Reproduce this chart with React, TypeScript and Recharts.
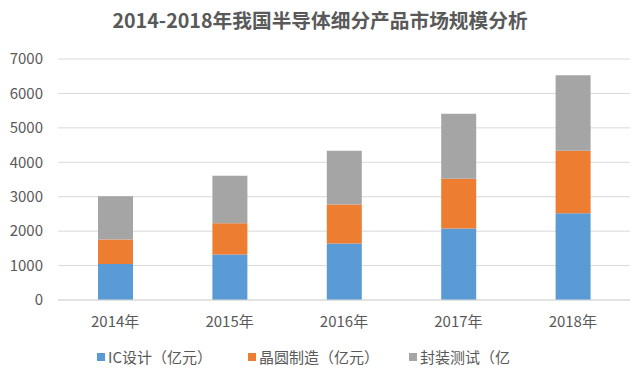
import { BarChart, Bar, XAxis, YAxis, CartesianGrid, Legend } from "recharts";

const years = ["2014年", "2015年", "2016年", "2017年", "2018年"];
const icDesign = [1047.4, 1325.0, 1644.3, 2073.5, 2519.3];
const waferMfg = [712.1, 900.8, 1126.9, 1448.1, 1818.2];
const packTest = [1255.9, 1384.0, 1564.3, 1889.7, 2193.9];
const yTicks = [0, 1000, 2000, 3000, 4000, 5000, 6000, 7000];

const seriesNames = ["IC设计（亿元）", "晶圆制造（亿元）", "封装测试（亿元）"];
const legendLabels = ["IC设计（亿元）", "晶圆制造（亿元）", "封装测试（亿"];
const colors = ["#5B9BD5", "#ED7D31", "#A5A5A5"];

const data = years.map((year, i) => ({
  year,
  ic: icDesign[i],
  wafer: waferMfg[i],
  pack: packTest[i],
}));

const FONT = '"Noto Sans CJK SC", "Noto Sans", sans-serif';

// legend is cut off on the right in the original, so draw it by hand
const renderLegend = () => (
  <div
    style={{
      display: "flex",
      justifyContent: "flex-start",
      paddingLeft: 97,
      paddingTop: 16,
      fontFamily: FONT,
      fontSize: 15,
      color: "#595959",
    }}
  >
    {legendLabels.map((label, i) => (
      <div key={label} style={{ display: "flex", alignItems: "center", marginRight: i === 0 ? 36 : 30 }}>
        <span style={{ width: 8, height: 8, background: colors[i], display: "inline-block", marginRight: 3 }} />
        <span>{label}</span>
      </div>
    ))}
  </div>
);

const App = () => {
  return (
    <div style={{ position: "relative", width: 640, height: 380, background: "#fff" }}>
      <style>{"body{margin:0}"}</style>
      <div
        style={{
          position: "absolute",
          top: 5,
          left: 0,
          width: 640,
          textAlign: "center",
          fontFamily: FONT,
          fontWeight: "bold",
          fontSize: 19.7,
          color: "#595959",
        }}
      >
        2014-2018年我国半导体细分产品市场规模分析
      </div>
      <BarChart width={640} height={380} data={data} margin={{ top: 59, right: 10, left: 0, bottom: 20 }}>
        <CartesianGrid vertical={false} stroke="#D9D9D9" />
        <XAxis
          dataKey="year"
          axisLine={{ stroke: "#D9D9D9" }}
          tickLine={false}
          height={30}
          tick={{ fill: "#595959", fontSize: 15, fontFamily: FONT }}
          tickMargin={10}
        />
        <YAxis
          ticks={yTicks}
          domain={[0, 7000]}
          axisLine={false}
          tickLine={false}
          tickSize={0}
          tickMargin={15}
          width={58}
          tick={{ fill: "#595959", fontSize: 15, fontFamily: FONT }}
        />
        <Legend verticalAlign="bottom" height={30} content={renderLegend} />
        <Bar dataKey="ic" name={seriesNames[0]} stackId="a" fill={colors[0]} barSize={35} isAnimationActive={false} />
        <Bar dataKey="wafer" name={seriesNames[1]} stackId="a" fill={colors[1]} barSize={35} isAnimationActive={false} />
        <Bar dataKey="pack" name={seriesNames[2]} stackId="a" fill={colors[2]} barSize={35} isAnimationActive={false} />
      </BarChart>
    </div>
  );
};

export default App;
